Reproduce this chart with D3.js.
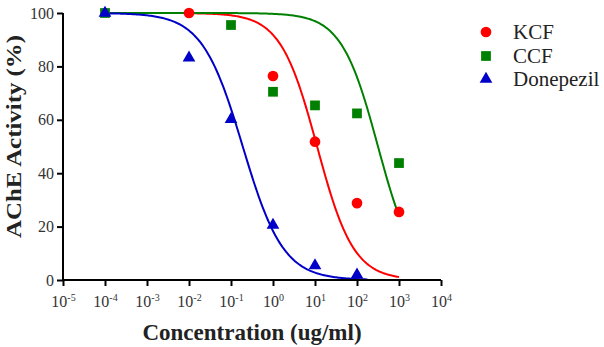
<!DOCTYPE html>
<html>
<head>
<meta charset="utf-8">
<script src="https://cdn.jsdelivr.net/npm/d3@7"></script>
<style>
  html, body { margin: 0; padding: 0; background: #fff; }
  svg { display: block; }
</style>
</head>
<body>
<svg id="chart" width="604" height="347"></svg>
<script>
// ---------- data ----------
const seriesNames = ["KCF", "CCF", "Donepezil"];
const seriesColors = ["#ff0000", "#008000", "#0000c8"];

const kcfConc = [0.01, 1, 10, 100, 1000];
const kcfActivity = [100, 76.4, 51.8, 28.8, 25.5];

const ccfConc = [0.0001, 0.1, 1, 10, 100, 1000];
const ccfActivity = [100, 95.5, 70.5, 65.4, 62.4, 43.8];

const donConc = [0.0001, 0.01, 0.1, 1, 10, 100];
const donActivity = [100, 83.2, 60.2, 20.6, 5.4, 1.9];

// fitted dose-response parameters (top 100, bottom 0)
const fitLogIC50 = [1.05, 2.5, -0.72];
const fitHill = [1.0, 1.0, 0.9];
const fitFrom = [-2, -4, -4];   // log10 concentration
const fitTo = [3, 3, 2.25];

const xTickExponents = [-5, -4, -3, -2, -1, 0, 1, 2, 3, 4];
const yTicks = [0, 20, 40, 60, 80, 100];

const yTitle = "AChE Activity (%)";
const xTitle = "Concentration (ug/ml)";

// ---------- chart ----------
(function () {
// pick an installed serif face
const candidates = ["Liberation Serif", "Times New Roman", "Tinos", "DejaVu Serif", "Noto Serif", "FreeSerif", "Times"];
const ctx = document.createElement("canvas").getContext("2d");
function w(f) { ctx.font = "32px " + f; return ctx.measureText("Donepezil AChE Wmli 100").width; }
const baseMono = w("monospace"), baseSans = w("sans-serif");
let serifFace = "serif";
for (const c of candidates) {
  if (w(`"${c}", monospace`) !== baseMono || w(`"${c}", sans-serif`) !== baseSans) { serifFace = `"${c}", serif`; break; }
}

const svg = d3.select("#chart").attr("font-family", serifFace);
const mLeft = 63, mRight = 441, mTop = 13, mBottom = 280;

const x = d3.scaleLog().domain([1e-5, 1e4]).range([mLeft, mRight]);
const y = d3.scaleLinear().domain([0, 100]).range([mBottom, mTop]);

const series = [
  { name: seriesNames[0], conc: kcfConc, act: kcfActivity, symbol: d3.symbolCircle, size: 90 },
  { name: seriesNames[1], conc: ccfConc, act: ccfActivity, symbol: d3.symbolSquare, size: 95 },
  { name: seriesNames[2], conc: donConc, act: donActivity, symbol: d3.symbolTriangle, size: 70 }
];
series.forEach((s, i) => { s.color = seriesColors[i]; s.i = i; });

// curves
const line = d3.line().x(d => x(d[0])).y(d => y(d[1]));
series.forEach(s => {
  const i = s.i;
  const pts = [];
  const n = 200;
  for (let k = 0; k <= n; k++) {
    const lx = fitFrom[i] + (fitTo[i] - fitFrom[i]) * k / n;
    const v = 100 / (1 + Math.pow(10, (lx - fitLogIC50[i]) * fitHill[i]));
    pts.push([Math.pow(10, lx), v]);
  }
  s.curve = pts;
});
series.forEach(s => {
  svg.append("path")
    .datum(s.curve)
    .attr("d", line)
    .attr("fill", "none")
    .attr("stroke", s.color)
    .attr("stroke-width", 2);
});

// markers
series.forEach(s => {
  const sym = d3.symbol().type(s.symbol).size(s.size);
  svg.append("g").selectAll("path")
    .data(s.conc.map((c, k) => [c, s.act[k]]))
    .join("path")
    .attr("d", sym)
    .attr("transform", d => `translate(${x(d[0])},${y(d[1])})`)
    .attr("fill", s.color);
});

// axes
const yAxis = d3.axisLeft(y).tickValues(yTicks).tickSize(6).tickPadding(3).tickFormat(d3.format("d"));
const yg = svg.append("g").attr("transform", `translate(${mLeft},0)`).call(yAxis)
  .attr("font-family", serifFace);
yg.select(".domain").attr("d", `M0,${mTop}V${mBottom}`).attr("stroke", "#000").attr("stroke-width", 2);
yg.selectAll(".tick line").attr("stroke", "#000").attr("stroke-width", 2);
yg.selectAll(".tick text").attr("font-size", 16).attr("fill", "#333");

const xAxis = d3.axisBottom(x).tickValues(xTickExponents.map(e => Math.pow(10, e))).tickSize(6).tickPadding(3).tickFormat("");
const xg = svg.append("g").attr("transform", `translate(0,${mBottom})`).call(xAxis)
  .attr("font-family", serifFace);
xg.select(".domain").attr("d", `M${mLeft},0H${mRight}`).attr("stroke", "#000").attr("stroke-width", 2);
xg.selectAll(".tick line").attr("stroke", "#000").attr("stroke-width", 2);
xg.selectAll(".tick text").remove();
xg.selectAll(".tick").each(function (d, k) {
  const t = d3.select(this).append("text")
    .attr("y", 27)
    .attr("text-anchor", "middle")
    .attr("fill", "#333")
    .attr("font-size", 16);
  t.append("tspan").text("10");
  t.append("tspan").attr("font-size", 10).attr("dy", -6).text(String(xTickExponents[k]));
});

// axis titles
svg.append("text")
  .attr("transform", `translate(21,${(35 + 238) / 2}) rotate(-90)`)
  .attr("text-anchor", "middle")
  .attr("font-weight", "bold")
  .attr("font-size", 22)
  .attr("textLength", 203)
  .attr("lengthAdjust", "spacingAndGlyphs")
  .attr("fill", "#222")
  .text(yTitle);

svg.append("text")
  .attr("x", 252)
  .attr("y", 340)
  .attr("text-anchor", "middle")
  .attr("font-weight", "bold")
  .attr("font-size", 23)
  .attr("fill", "#222")
  .text(xTitle);

// legend
const legY = [32, 56, 79];
series.forEach((s, i) => {
  svg.append("path")
    .attr("d", d3.symbol().type(s.symbol).size(s.size)())
    .attr("transform", `translate(486,${legY[i]})`)
    .attr("fill", s.color);
  svg.append("text")
    .attr("x", 513)
    .attr("y", legY[i] + 7)
    .attr("font-size", 21)
    .attr("fill", "#222")
    .text(s.name);
});
})();
</script>
</body>
</html>
